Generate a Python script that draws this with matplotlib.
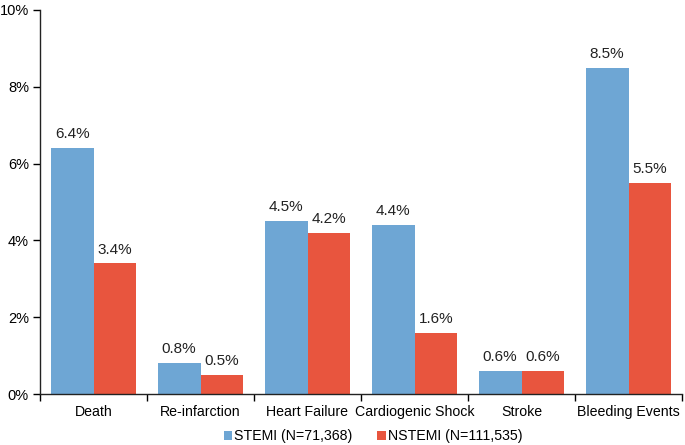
import matplotlib
matplotlib.use("Agg")
import matplotlib.pyplot as plt
import numpy as np

categories = ["Death", "Re-infarction", "Heart Failure", "Cardiogenic Shock", "Stroke", "Bleeding Events"]
stemi = [6.4, 0.8, 4.5, 4.4, 0.6, 8.5]
nstemi = [3.4, 0.5, 4.2, 1.6, 0.6, 5.5]
series_labels = ["STEMI (N=71,368)", "NSTEMI (N=111,535)"]
yticks = [0, 2, 4, 6, 8, 10]

plt.rcParams['font.family'] = ['Liberation Sans', 'DejaVu Sans']
blue = "#6ea6d4"
red = "#e8553e"

fig = plt.figure(figsize=(6.85, 4.45), dpi=100)
ax = fig.add_axes([40/685, 51/445, 642/685, 384/445])

x = np.arange(len(categories))
w = 0.4
b1 = ax.bar(x - w/2, stemi, w, color=blue, label=series_labels[0])
b2 = ax.bar(x + w/2, nstemi, w, color=red, label=series_labels[1])

for rects, vals in ((b1, stemi), (b2, nstemi)):
    for r, v in zip(rects, vals):
        ax.text(r.get_x() + r.get_width()/2, v + 0.18, f"{v:.1f}%", ha="center", va="bottom",
                fontsize=11, color="#222222")

ax.set_xlim(-0.5, len(categories) - 0.5)
ax.set_ylim(0, 10)
ax.set_yticks(yticks)
ax.set_yticklabels([f"{t}%" for t in yticks], fontsize=10.5)
ax.set_xticks(x)
ax.set_xticklabels(categories, fontsize=10.2)
ax.set_xticks(np.arange(-0.5, len(categories), 1), minor=True)
ax.tick_params(axis="x", which="major", length=0, pad=8)
ax.tick_params(axis="x", which="minor", length=5, direction="out", width=1)
ax.tick_params(axis="y", length=5, direction="out", width=1, pad=3)
for s in ("top", "right"):
    ax.spines[s].set_visible(False)
for s in ("left", "bottom"):
    ax.spines[s].set_linewidth(1)
    ax.spines[s].set_color("#222222")

ax.legend(loc="center", bbox_to_anchor=(333/642, -42/384), ncol=2, frameon=False,
          fontsize=10.2, handlelength=0.6, handleheight=0.6, handletextpad=0.15,
          columnspacing=1.75, borderpad=0.1)

fig.savefig("out.png", dpi=100)
